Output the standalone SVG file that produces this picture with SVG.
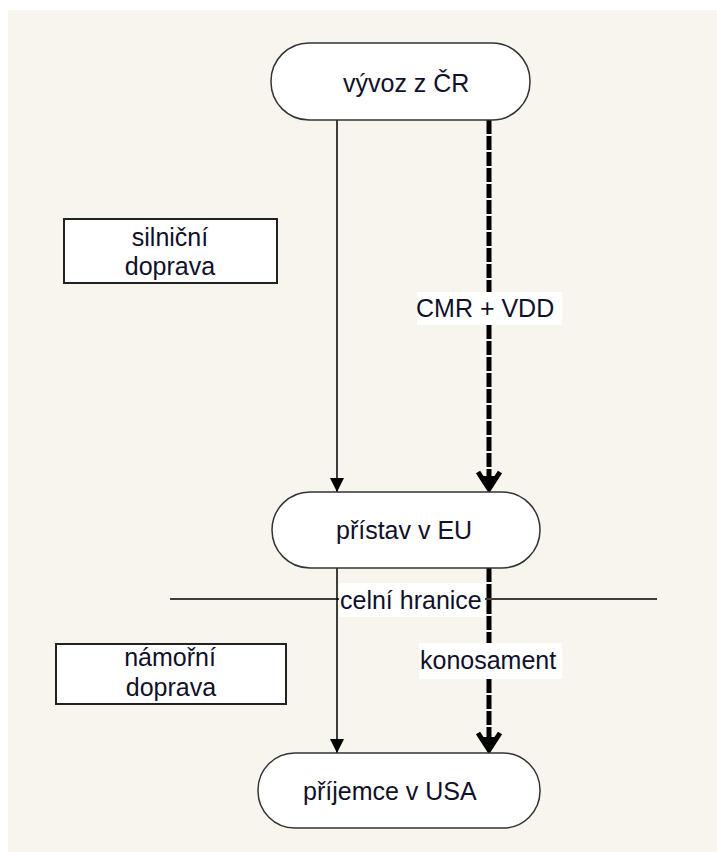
<svg xmlns="http://www.w3.org/2000/svg" width="717" height="852" viewBox="0 0 717 852">
<style>
text{font-family:"Liberation Sans",Arial,sans-serif;font-size:25px;fill:#10102a}
.node{fill:#fff;stroke:#333;stroke-width:1.5}
.box{fill:#fff;stroke:#222;stroke-width:2}
.thin{stroke:#000;stroke-width:1.5;fill:none}
.thick{stroke:#000;stroke-width:5;fill:none;stroke-dasharray:14 2}
.lbl{fill:#fff}
</style>
<defs>
<marker id="tri" markerWidth="16" markerHeight="16" refX="14" refY="7" orient="auto" markerUnits="userSpaceOnUse">
<path d="M0,0 L14,7 L0,14 Z" fill="#000"/>
</marker>
</defs>
<rect x="0" y="0" width="717" height="852" fill="#fff"/>
<rect x="8" y="10" width="709" height="842" fill="#f8f5ef"/>

<g id="connectors">
<line class="thin" x1="170" y1="599" x2="657" y2="599"/>
<line class="thin" x1="337" y1="120" x2="337" y2="492" marker-end="url(#tri)"/>
<line class="thin" x1="337" y1="568" x2="337" y2="753" marker-end="url(#tri)"/>
<line class="thick" x1="489" y1="120" x2="489" y2="292"/>
<line class="thick" x1="489" y1="325" x2="489" y2="486"/>
<path d="M478,472 L489,489 L500,472" stroke="#000" stroke-width="5" fill="none"/>
<path d="M482,476 L489,492 L496,476 Z" fill="#000"/>
<line class="thick" x1="489" y1="568" x2="489" y2="643"/>
<line class="thick" x1="489" y1="679" x2="489" y2="747"/>
<path d="M478,733 L489,750 L500,733" stroke="#000" stroke-width="5" fill="none"/>
<path d="M482,737 L489,753 L496,737 Z" fill="#000"/>
<g id="label-cmr"><rect class="lbl" x="417" y="292" width="145" height="33"/><text x="416" y="317">CMR + VDD</text></g>
<g id="label-celni"><rect class="lbl" x="339" y="583" width="146" height="34"/><text x="340" y="609">celní hranice</text></g>
<g id="label-konosament"><rect class="lbl" x="419" y="643" width="143" height="36"/><text x="420" y="669">konosament</text></g>
</g>

<g id="node-vyvoz">
<rect class="node" x="271" y="43" width="259" height="77" rx="38" ry="38"/>
<text x="343" y="92">vývoz z ČR</text>
</g>
<g id="node-pristav">
<rect class="node" x="272" y="492" width="268" height="76" rx="38" ry="38"/>
<text x="336" y="539">přístav v EU</text>
</g>
<g id="node-prijemce">
<rect class="node" x="258" y="753" width="282" height="75" rx="37" ry="37"/>
<text x="303" y="800">příjemce v USA</text>
</g>
<g id="box-silnicni">
<rect class="box" x="64" y="219" width="213" height="64"/>
<text x="170" y="246" text-anchor="middle">silniční</text>
<text x="170" y="275" text-anchor="middle">doprava</text>
</g>
<g id="box-namorni">
<rect class="box" x="56" y="644" width="230" height="60"/>
<text x="170" y="666" text-anchor="middle">námořní</text>
<text x="171" y="696" text-anchor="middle">doprava</text>
</g>
</svg>
